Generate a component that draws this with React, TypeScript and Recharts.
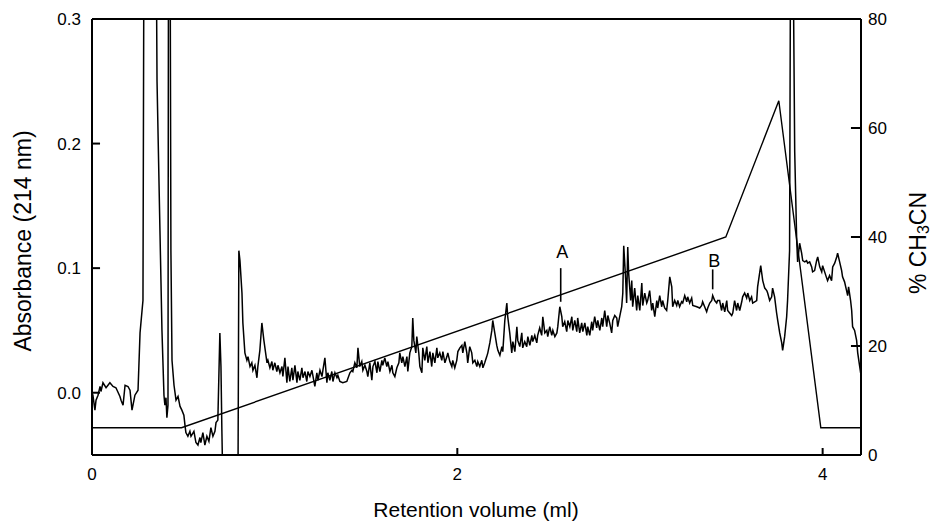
import { LineChart, Line, XAxis, YAxis, ReferenceLine, ReferenceDot } from "recharts";

// absorbance trace, [retention volume (ml), A214]; values above 0.3 / below -0.05 are off scale
const injectionTrace: [number, number][] = [
  [0, 0], [0.005, -0.002], [0.016, -0.014], [0.022, -0.006], [0.033, -0.002], [0.044, 0.005],
  [0.049, 0.001], [0.06, 0.008], [0.077, 0.004], [0.098, 0.008], [0.115, 0.005], [0.131, 0.004],
  [0.153, -0.003], [0.159, -0.006], [0.17, -0.01], [0.181, 0.006], [0.197, 0.005], [0.208, 0.002],
  [0.219, -0.014], [0.235, -0.002], [0.252, 0.002], [0.263, 0.048], [0.274, 0.066], [0.279, 0.074],
  [0.285, 0.4], [0.35, 0.4], [0.356, 0.25], [0.372, 0.13], [0.383, 0.05], [0.394, -0.002],
  [0.399, -0.01], [0.405, -0.004], [0.41, -0.02], [0.416, -0.01], [0.419, 0.4], [0.427, 0.4],
  [0.432, 0.114], [0.438, 0.026], [0.449, 0.006], [0.46, -0.006], [0.471, -0.003], [0.482, -0.011],
  [0.492, -0.014], [0.503, -0.018], [0.509, -0.026], [0.514, -0.032], [0.525, -0.035], [0.536, -0.031],
  [0.542, -0.035], [0.558, -0.031], [0.569, -0.04], [0.58, -0.042], [0.591, -0.036], [0.596, -0.04],
  [0.607, -0.032], [0.618, -0.042], [0.629, -0.035], [0.64, -0.039], [0.651, -0.028], [0.662, -0.035],
  [0.673, -0.031], [0.679, -0.024], [0.689, -0.022], [0.7, 0.048], [0.706, 0.021], [0.711, -0.03],
  [0.717, -0.08], [0.799, -0.08], [0.804, 0.114], [0.81, 0.106], [0.821, 0.08], [0.826, 0.056],
  [0.837, 0.032], [0.848, 0.026], [0.854, 0.029],
];

const earlyTrace: [number, number][] = [
  [0.865, 0.021], [0.875, 0.024], [0.881, 0.018], [0.892, 0.022], [0.903, 0.012], [0.908, 0.021],
  [0.919, 0.034], [0.93, 0.056], [0.941, 0.042], [0.958, 0.024], [0.963, 0.026], [0.974, 0.02],
  [0.985, 0.025], [0.99, 0.018], [1.001, 0.024], [1.012, 0.017], [1.018, 0.022], [1.029, 0.016],
  [1.04, 0.021], [1.045, 0.013], [1.056, 0.028], [1.067, 0.008], [1.073, 0.021], [1.083, 0.009],
  [1.094, 0.02], [1.1, 0.01], [1.111, 0.022], [1.122, 0.008], [1.127, 0.017], [1.138, 0.01],
  [1.149, 0.02], [1.155, 0.012], [1.166, 0.017], [1.176, 0.009], [1.182, 0.017], [1.193, 0.013],
  [1.204, 0.018], [1.209, 0.014], [1.22, 0.005], [1.231, 0.016], [1.237, 0.01], [1.248, 0.018],
  [1.259, 0.013], [1.264, 0.018], [1.275, 0.028], [1.286, 0.008], [1.291, 0.016], [1.302, 0.01],
  [1.313, 0.017], [1.319, 0.009], [1.33, 0.016], [1.341, 0.012], [1.346, 0.014], [1.357, 0.009],
  [1.373, 0.008], [1.395, 0.009], [1.412, 0.016], [1.423, 0.018], [1.428, 0.017], [1.439, 0.024],
  [1.45, 0.02], [1.456, 0.036], [1.466, 0.021], [1.477, 0.025], [1.483, 0.018], [1.494, 0.022],
  [1.505, 0.017], [1.51, 0.013], [1.521, 0.024], [1.532, 0.01], [1.538, 0.021], [1.549, 0.025],
  [1.56, 0.016], [1.565, 0.025], [1.576, 0.017], [1.587, 0.026], [1.592, 0.022], [1.603, 0.028],
  [1.614, 0.021], [1.62, 0.025], [1.631, 0.017], [1.642, 0.022], [1.647, 0.016], [1.658, 0.013],
  [1.669, 0.02], [1.68, 0.024],
];

const midTrace: [number, number][] = [
  [1.685, 0.032], [1.696, 0.024], [1.702, 0.029], [1.713, 0.021], [1.724, 0.029], [1.729, 0.017],
  [1.74, 0.032], [1.751, 0.037], [1.756, 0.06], [1.762, 0.042], [1.773, 0.032], [1.778, 0.045],
  [1.789, 0.032], [1.795, 0.021], [1.806, 0.016], [1.811, 0.036], [1.822, 0.026], [1.833, 0.037],
  [1.839, 0.024], [1.85, 0.033], [1.86, 0.021], [1.866, 0.032], [1.877, 0.024], [1.888, 0.036],
  [1.893, 0.028], [1.904, 0.032], [1.915, 0.026], [1.921, 0.033], [1.932, 0.024], [1.943, 0.029],
  [1.948, 0.032], [1.959, 0.025], [1.97, 0.021], [1.975, 0.026], [1.986, 0.02], [1.997, 0.026],
  [2.003, 0.033], [2.014, 0.036], [2.025, 0.038], [2.03, 0.032], [2.041, 0.041], [2.052, 0.032],
  [2.057, 0.024], [2.068, 0.037], [2.079, 0.032], [2.085, 0.024], [2.096, 0.026], [2.107, 0.021],
  [2.112, 0.025], [2.123, 0.021], [2.134, 0.026], [2.14, 0.02], [2.15, 0.024], [2.161, 0.029],
  [2.167, 0.032], [2.178, 0.04], [2.189, 0.05], [2.194, 0.058], [2.205, 0.048], [2.216, 0.038],
  [2.222, 0.034], [2.233, 0.03], [2.244, 0.037], [2.249, 0.033], [2.26, 0.058], [2.271, 0.072],
  [2.276, 0.061], [2.287, 0.048], [2.298, 0.032], [2.304, 0.041], [2.315, 0.033], [2.326, 0.053],
  [2.331, 0.042], [2.342, 0.037], [2.353, 0.048], [2.358, 0.036], [2.369, 0.041], [2.38, 0.037],
  [2.386, 0.045], [2.397, 0.038], [2.408, 0.046], [2.413, 0.041], [2.424, 0.046], [2.435, 0.04],
  [2.44, 0.046], [2.451, 0.052], [2.462, 0.046], [2.468, 0.061], [2.479, 0.048], [2.49, 0.05],
  [2.495, 0.045], [2.506, 0.053], [2.517, 0.046], [2.523, 0.05], [2.534, 0.045], [2.545, 0.048],
  [2.55, 0.053],
];

const lateTrace: [number, number][] = [
  [2.561, 0.069], [2.572, 0.061], [2.577, 0.053], [2.588, 0.057], [2.599, 0.049], [2.605, 0.058],
  [2.616, 0.053], [2.627, 0.061], [2.632, 0.05], [2.643, 0.058], [2.654, 0.049], [2.659, 0.06],
  [2.67, 0.048], [2.681, 0.056], [2.687, 0.049], [2.698, 0.056], [2.709, 0.046], [2.714, 0.053],
  [2.725, 0.046], [2.736, 0.057], [2.741, 0.05], [2.752, 0.061], [2.763, 0.052], [2.769, 0.058],
  [2.78, 0.05], [2.791, 0.06], [2.796, 0.053], [2.807, 0.066], [2.818, 0.053], [2.824, 0.062],
  [2.834, 0.056], [2.845, 0.048], [2.851, 0.058], [2.862, 0.062], [2.873, 0.06], [2.878, 0.053],
  [2.889, 0.061], [2.9, 0.069], [2.906, 0.08], [2.911, 0.118], [2.922, 0.09], [2.927, 0.072],
  [2.933, 0.117], [2.938, 0.096], [2.949, 0.074], [2.955, 0.09], [2.96, 0.069], [2.971, 0.084],
  [2.982, 0.066], [2.988, 0.078], [2.999, 0.066], [3.01, 0.088], [3.015, 0.07], [3.026, 0.08],
  [3.037, 0.072], [3.042, 0.074], [3.053, 0.082], [3.064, 0.066], [3.07, 0.072], [3.081, 0.061],
  [3.092, 0.074], [3.097, 0.068], [3.108, 0.078], [3.119, 0.069], [3.124, 0.074], [3.135, 0.068],
  [3.146, 0.066], [3.152, 0.074], [3.163, 0.093], [3.174, 0.085], [3.179, 0.069], [3.19, 0.074],
  [3.201, 0.07], [3.207, 0.074], [3.217, 0.069], [3.228, 0.073], [3.234, 0.072], [3.245, 0.078],
  [3.256, 0.073], [3.261, 0.077], [3.272, 0.072], [3.283, 0.076], [3.289, 0.07], [3.311, 0.069],
  [3.327, 0.068], [3.338, 0.07], [3.343, 0.073], [3.354, 0.069], [3.365, 0.065], [3.371, 0.068],
  [3.382, 0.072], [3.393, 0.074], [3.398, 0.078], [3.409, 0.074], [3.42, 0.072], [3.425, 0.074],
];

const endTrace: [number, number][] = [
  [3.436, 0.074], [3.447, 0.066], [3.453, 0.072], [3.464, 0.065], [3.475, 0.074], [3.48, 0.066],
  [3.491, 0.064], [3.502, 0.062], [3.508, 0.064], [3.518, 0.074], [3.529, 0.066], [3.535, 0.072],
  [3.546, 0.066], [3.557, 0.073], [3.562, 0.077], [3.573, 0.08], [3.584, 0.076], [3.59, 0.08],
  [3.601, 0.074], [3.611, 0.077], [3.617, 0.072], [3.628, 0.073], [3.639, 0.074], [3.644, 0.085],
  [3.661, 0.102], [3.672, 0.09], [3.683, 0.084], [3.694, 0.082], [3.699, 0.08], [3.71, 0.074],
  [3.721, 0.077], [3.726, 0.084], [3.737, 0.077], [3.748, 0.064], [3.754, 0.058], [3.765, 0.048],
  [3.776, 0.04], [3.781, 0.034], [3.792, 0.045], [3.803, 0.061], [3.808, 0.074], [3.819, 0.114],
  [3.825, 0.4], [3.836, 0.4], [3.847, 0.194], [3.858, 0.122], [3.863, 0.105], [3.874, 0.12],
  [3.885, 0.112], [3.891, 0.106], [3.902, 0.105], [3.912, 0.106], [3.918, 0.104], [3.929, 0.105],
  [3.94, 0.101], [3.945, 0.097], [3.956, 0.098], [3.967, 0.106], [3.973, 0.109], [3.984, 0.101],
  [3.995, 0.097], [4.0, 0.102], [4.011, 0.097], [4.022, 0.092], [4.027, 0.09], [4.038, 0.094],
  [4.049, 0.09], [4.055, 0.101], [4.066, 0.104], [4.077, 0.109], [4.082, 0.112], [4.093, 0.105],
  [4.104, 0.098], [4.109, 0.093], [4.12, 0.089], [4.131, 0.082], [4.137, 0.078], [4.142, 0.085],
  [4.153, 0.074], [4.159, 0.066], [4.164, 0.053], [4.175, 0.05], [4.186, 0.042], [4.192, 0.032],
  [4.203, 0.021], [4.208, 0.016],
];

// acetonitrile gradient program
const gradientVolume = [0, 0.49, 3.47, 3.76, 3.99, 4.21];
const gradientPercent = [5, 5, 40, 65, 5, 5];

// peak markers
const peakNames = ["A", "B"];
const peakVolume = [2.566, 3.398];
const markerTop = [0.1, 0.099];
const markerBottom = [0.073, 0.083];
const nameY = [0.113, 0.106];

const xTicks = [0, 2, 4];
const absTicks = [0, 0.1, 0.2, 0.3];
const pctTicks = [0, 20, 40, 60, 80];

const X_MAX = 4.21;
const ABS_MIN = -0.05;
const FONT = "'Liberation Sans', Arial, Helvetica, sans-serif";

const absorbance = [...injectionTrace, ...earlyTrace, ...midTrace, ...lateTrace, ...endTrace].map(([x, a]) => ({ x, a }));
const gradient = gradientVolume.map((x, i) => ({ x, pct: gradientPercent[i] }));

const tickStyle = { fontSize: 17, fill: "#000", fontFamily: FONT };

export default function App() {
  return (
    <div style={{ position: "absolute", left: 0, top: 0, background: "#fff" }}>
      <LineChart width={930} height={523} margin={{ top: 19, right: 0, bottom: 0, left: 0 }}>
        <XAxis
          type="number"
          dataKey="x"
          domain={[0, X_MAX]}
          allowDataOverflow
          ticks={xTicks}
          height={68}
          tickSize={-7}
          tickMargin={20}
          stroke="#000"
          strokeWidth={2}
          tickLine={false}
          tick={tickStyle}
          label={{
            content: () => (
              <text x={476} y={509} textAnchor="middle" dominantBaseline="central" fontSize={21} fontFamily={FONT} fill="#000">
                Retention volume (ml)
              </text>
            ),
          }}
        />
        <YAxis
          yAxisId="abs"
          orientation="left"
          type="number"
          domain={[ABS_MIN, 0.3]}
          allowDataOverflow
          ticks={absTicks}
          width={92}
          tickSize={-8}
          tickMargin={19}
          stroke="#000"
          strokeWidth={2}
          tickLine={false}
          tick={tickStyle}
          tickFormatter={(v: number) => v.toFixed(1)}
          label={{
            content: () => (
              <text x={23} y={241} transform="rotate(-90 23 241)" textAnchor="middle" dominantBaseline="central" fontSize={23} fontFamily={FONT} fill="#000">
                Absorbance (214 nm)
              </text>
            ),
          }}
        />
        <YAxis
          yAxisId="pct"
          orientation="right"
          type="number"
          domain={[0, 80]}
          allowDataOverflow
          ticks={pctTicks}
          width={69}
          tickSize={-10}
          tickMargin={17}
          stroke="#000"
          strokeWidth={2}
          tickLine={false}
          tick={tickStyle}
          label={{
            content: () => (
              <text x={918} y={243} transform="rotate(-90 918 243)" textAnchor="middle" dominantBaseline="central" fontSize={23} fontFamily={FONT} fill="#000">
                <tspan>% CH</tspan>
                <tspan fontSize={16} dy={5}>3</tspan>
                <tspan dy={-5}>CN</tspan>
              </text>
            ),
          }}
        />
        <ReferenceLine yAxisId="abs" y={0.3} stroke="#000" strokeWidth={2} />
        {/* inward tick marks */}
        {absTicks.map((v) => (
          <ReferenceLine
            key={`ta-${v}`}
            yAxisId="abs"
            segment={[{ x: 0, y: v }, { x: 0.044, y: v }]}
            stroke="#000"
            strokeWidth={2}
          />
        ))}
        {pctTicks.map((v) => (
          <ReferenceLine
            key={`tp-${v}`}
            yAxisId="pct"
            segment={[{ x: X_MAX - 0.055, y: v }, { x: X_MAX, y: v }]}
            stroke="#000"
            strokeWidth={2}
          />
        ))}
        {xTicks.map((v) => (
          <ReferenceLine
            key={`tx-${v}`}
            yAxisId="abs"
            segment={[{ x: v, y: ABS_MIN }, { x: v, y: ABS_MIN + 0.0056 }]}
            stroke="#000"
            strokeWidth={2}
          />
        ))}
        <Line
          yAxisId="pct"
          data={gradient}
          dataKey="pct"
          type="linear"
          stroke="#000"
          strokeWidth={1.4}
          dot={false}
          isAnimationActive={false}
        />
        <Line
          yAxisId="abs"
          data={absorbance}
          dataKey="a"
          type="linear"
          stroke="#000"
          strokeWidth={1.5}
          dot={false}
          isAnimationActive={false}
        />
        {peakNames.map((name, i) => (
          <ReferenceLine
            key={`m-${name}`}
            yAxisId="abs"
            segment={[
              { x: peakVolume[i], y: markerBottom[i] },
              { x: peakVolume[i], y: markerTop[i] },
            ]}
            stroke="#000"
            strokeWidth={1.6}
          />
        ))}
        {peakNames.map((name, i) => (
          <ReferenceDot
            key={`l-${name}`}
            yAxisId="abs"
            x={peakVolume[i] + 0.008}
            y={nameY[i]}
            r={0}
            stroke="none"
            fill="none"
            label={{ value: name, position: "center", fontSize: 18, fontFamily: FONT, fill: "#000" }}
          />
        ))}
      </LineChart>
    </div>
  );
}
